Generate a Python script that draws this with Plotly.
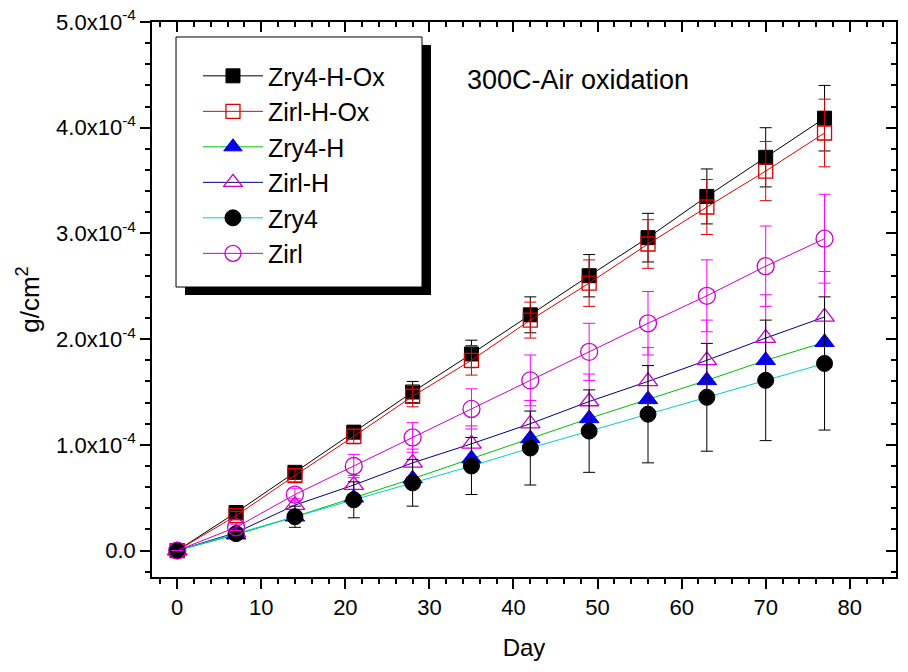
import plotly.graph_objects as go

days = [0, 7, 14, 21, 28, 35, 42, 49, 56, 63, 70, 77]

# values in units of 1e-4 g/cm^2
zry4_h_ox = [0, 0.36, 0.74, 1.12, 1.50, 1.86, 2.23, 2.60, 2.96, 3.35, 3.72, 4.09]
zry4_h_ox_err = [0, 0.03, 0.05, 0.06, 0.10, 0.13, 0.17, 0.20, 0.23, 0.26, 0.28, 0.31]

zirl_h_ox = [0, 0.33, 0.71, 1.08, 1.46, 1.80, 2.18, 2.53, 2.90, 3.25, 3.59, 3.95]
zirl_h_ox_err = [0, 0.04, 0.06, 0.07, 0.10, 0.14, 0.17, 0.22, 0.23, 0.26, 0.28, 0.32]

zry4_h = [0, 0.15, 0.32, 0.50, 0.68, 0.87, 1.06, 1.25, 1.43, 1.61, 1.80, 1.97]

zirl_h = [0, 0.17, 0.43, 0.62, 0.83, 1.01, 1.20, 1.41, 1.60, 1.80, 2.01, 2.21]
zirl_h_err = [0, 0.03, 0.06, 0.09, 0.13, 0.17, 0.22, 0.26, 0.32, 0.38, 0.41, 0.43]

zry4 = [0, 0.16, 0.32, 0.48, 0.64, 0.80, 0.97, 1.13, 1.29, 1.45, 1.61, 1.77]
zry4_err = [0, 0.05, 0.10, 0.17, 0.22, 0.27, 0.35, 0.39, 0.46, 0.51, 0.57, 0.63]

zirl = [0, 0.22, 0.53, 0.80, 1.07, 1.34, 1.61, 1.88, 2.15, 2.41, 2.69, 2.95]
zirl_err = [0, 0.03, 0.06, 0.11, 0.14, 0.19, 0.24, 0.27, 0.30, 0.34, 0.38, 0.42]

x_ticks = [0, 10, 20, 30, 40, 50, 60, 70, 80]
y_tickvals = [0, 1e-4, 2e-4, 3e-4, 4e-4, 5e-4]
y_ticktext = ["0.0", "1.0x10<sup>-4</sup>", "2.0x10<sup>-4</sup>", "3.0x10<sup>-4</sup>",
              "4.0x10<sup>-4</sup>", "5.0x10<sup>-4</sup>"]

S = 1e-4
def sc(a):
    return [v * S for v in a]

FONT = "Liberation Sans, Arial, sans-serif"
MAG = "#cc00cc"

fig = go.Figure()

def add(name, y, err, line_color, marker, err_color):
    kw = {}
    if err is not None:
        kw["error_y"] = dict(type="data", array=sc(err), visible=True,
                             color=err_color, thickness=1, width=6)
    fig.add_trace(go.Scatter(x=days, y=sc(y), name=name, mode="lines+markers",
                             line=dict(color=line_color, width=1),
                             marker=marker, legendgroup=name, **kw))

add("Zry4-H-Ox", zry4_h_ox, zry4_h_ox_err, "black",
    dict(symbol="square", size=14, color="black", line=dict(color="black", width=1)), "black")
add("Zirl-H-Ox", zirl_h_ox, zirl_h_ox_err, "#e00000",
    dict(symbol="square-open", size=14, color="#e00000", line=dict(color="#e00000", width=1.3)), "#e00000")
add("Zry4-H", zry4_h, None, "#00c000",
    dict(symbol="triangle-up", size=17, color="#0000ee", line=dict(color="#0000ee", width=1)), "#0000ee")
add("Zirl-H", zirl_h, zirl_h_err, "#000080",
    dict(symbol="triangle-up-open", size=17, color=MAG, line=dict(color=MAG, width=1.3)), "#ff00ff")
add("Zry4", zry4, zry4_err, "#00d0d0",
    dict(symbol="circle", size=16, color="black", line=dict(color="black", width=1)), "black")
add("Zirl", zirl, zirl_err, MAG,
    dict(symbol="circle-open", size=17, color=MAG, line=dict(color=MAG, width=1.3)), "#ff00ff")

# invisible helper so the mirrored (top/right) frame axes get drawn
fig.add_trace(go.Scatter(x=days, y=sc(zry4_h_ox), xaxis="x2", yaxis="y2", mode="markers",
                         marker=dict(opacity=0), showlegend=False, hoverinfo="skip"))

axis_common = dict(showline=True, linecolor="black", linewidth=1.5, showgrid=False,
                   zeroline=False, tickcolor="black", tickwidth=1.5)

# page body has an 8px margin; margins offset accordingly
fig.update_layout(
    width=908, height=672,
    margin=dict(l=144, r=20, t=14, b=103, autoexpand=False),
    paper_bgcolor="white", plot_bgcolor="white",
    font=dict(family=FONT, color="black"),
    xaxis=dict(range=[-3, 85.5], tickvals=x_ticks, ticks="outside", ticklen=10,
               minor=dict(dtick=2, tick0=0, ticks="outside", ticklen=5, tickcolor="black", tickwidth=1.5),
               tickfont=dict(size=22), title=dict(text="Day", font=dict(size=24), standoff=20),
               ticklabeloverflow="allow", automargin=False, **axis_common),
    yaxis=dict(range=[-0.25e-4, 5.0e-4], tickvals=y_tickvals, ticktext=y_ticktext,
               ticks="outside", ticklen=10,
               minor=dict(dtick=0.2e-4, tick0=0, ticks="outside", ticklen=5, tickcolor="black", tickwidth=1.5),
               tickfont=dict(size=22), title=dict(text="g/cm<sup>2</sup>", font=dict(size=26), standoff=9),
               ticklabeloverflow="allow", automargin=False, **axis_common),
    xaxis2=dict(overlaying="x", side="top", anchor="y2", showticklabels=False,
                range=[-3, 85.5], tickvals=x_ticks, ticks="inside", ticklen=10,
                minor=dict(dtick=2, tick0=0, ticks="inside", ticklen=5, tickcolor="black", tickwidth=1.5),
                **axis_common),
    yaxis2=dict(overlaying="y", side="right", anchor="x2", showticklabels=False,
                range=[-0.25e-4, 5.0e-4], tickvals=y_tickvals, ticks="inside", ticklen=10,
                minor=dict(dtick=0.2e-4, tick0=0, ticks="inside", ticklen=5, tickcolor="black", tickwidth=1.5),
                **axis_common),
    showlegend=True,
    legend=dict(x=0.0618, y=0.944, xanchor="left", yanchor="top",
                bgcolor="rgba(0,0,0,0)", borderwidth=0,
                font=dict(size=25, family=FONT), itemwidth=60, tracegroupgap=0,
                traceorder="normal"),
    shapes=[
        dict(type="rect", xref="paper", yref="paper", x0=0.0444, x1=0.375, y0=0.5081, y1=0.9586,
             fillcolor="black", line=dict(width=0), layer="above"),
        dict(type="rect", xref="paper", yref="paper", x0=0.0323, x1=0.3629, y0=0.5225, y1=0.973,
             fillcolor="white", line=dict(color="black", width=1), layer="above"),
    ],
    annotations=[dict(text="300C-Air oxidation", x=0.4207, y=0.8955, xref="paper", yref="paper",
                      xanchor="left", yanchor="middle", showarrow=False,
                      font=dict(size=27, family=FONT))],
)

fig.write_html("out.html")
